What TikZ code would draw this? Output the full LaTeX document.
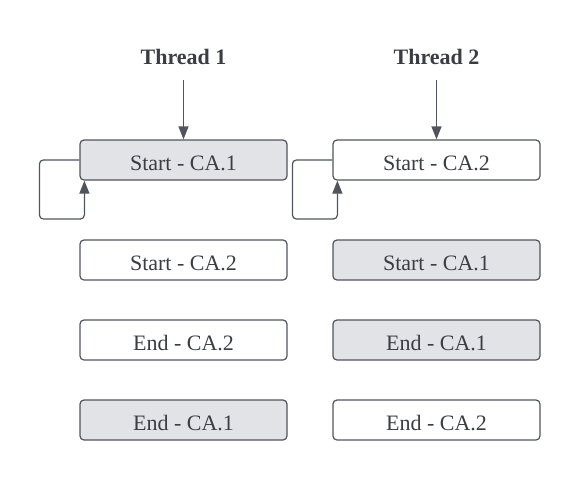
\documentclass[tikz,border=0pt]{standalone}
\usepackage{fontspec}
\setmainfont{Liberation Serif}
\usetikzlibrary{arrows.meta}
\definecolor{ink}{HTML}{3A3D44}
\definecolor{edge}{HTML}{50545C}
\definecolor{held}{HTML}{E1E3E7}
\tikzset{
	box/.style={draw=edge, line width=1.2pt, rounded corners=4pt, minimum width=207pt,
		minimum height=40pt, inner sep=0pt, text height=20pt, text depth=0pt,
		text=ink, font=\fontsize{22}{26}\selectfont},
	lock/.style={box, fill=held},
	title/.style={text=ink, font=\fontsize{22}{26}\selectfont\bfseries},
	flow/.style={draw=edge, line width=1.2pt, -{Triangle[length=13pt,width=10pt]}}
}

\begin{document}
\begin{tikzpicture}[x=1pt, y=-1pt]
		\useasboundingbox (0,0) rectangle (581,480);
		\node[title] (t1) at (183.5,57) {Thread 1};
		\node[title] (t2) at (436.5,57) {Thread 2};
		\coordinate (in1) at (183.5,80);
		\coordinate (in2) at (436.5,80);
		% thread 1
		\node[lock] (a1) at (183.5,160) {Start - CA.1};
		\node[box]  (a2) at (183.5,260) {Start - CA.2};
		\node[box]  (a3) at (183.5,340) {End - CA.2};
		\node[lock] (a4) at (183.5,420) {End - CA.1};
		% thread 2
		\node[box]  (b1) at (436.5,160) {Start - CA.2};
		\node[lock] (b2) at (436.5,260) {Start - CA.1};
		\node[lock] (b3) at (436.5,340) {End - CA.1};
		\node[box]  (b4) at (436.5,420) {End - CA.2};
		\draw[flow] (in1) -- (a1.north);
		\draw[flow] (in2) -- (b1.north);
		\draw[flow, rounded corners=4pt] (a1.west) -- ++(-40,0) -- ++(0,59) -| ([xshift=5pt]a1.south west);
		\draw[flow, rounded corners=4pt] (b1.west) -- ++(-40,0) -- ++(0,59) -| ([xshift=5pt]b1.south west);
	\end{tikzpicture}
\end{document}
